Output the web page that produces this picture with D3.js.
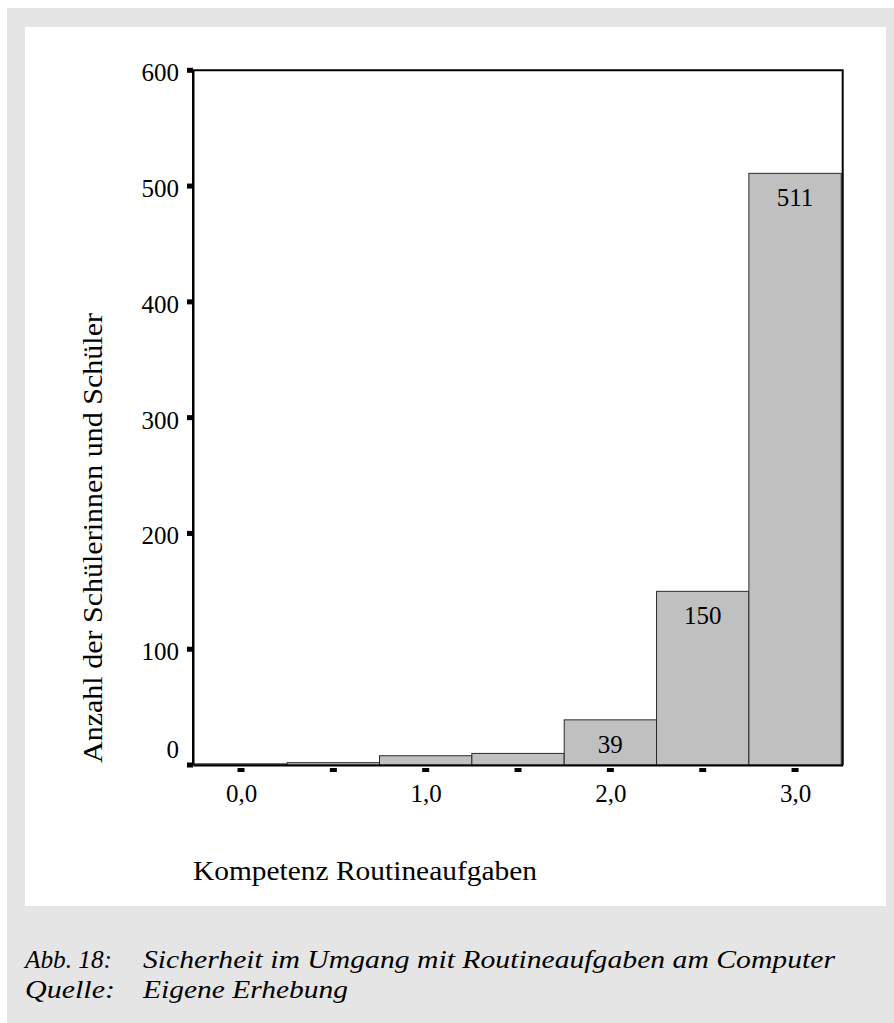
<!DOCTYPE html>
<html>
<head>
<meta charset="utf-8">
<script src="https://cdn.jsdelivr.net/npm/d3@7/dist/d3.min.js"></script>
<style>
  html, body { margin: 0; padding: 0; background: #ffffff; }
  svg { display: block; }
  text { font-family: "Liberation Serif", "Times New Roman", serif; fill: #000; }
</style>
</head>
<body>
<svg id="chart" width="894" height="1023"></svg>
<script>
// ---- data ----
const binCenters = [0.0, 0.5, 1.0, 1.5, 2.0, 2.5, 3.0];
const counts = [1, 2, 8, 10, 39, 150, 511];
const labelMin = 39;               // bars with a count label
const yTicks = [0, 100, 200, 300, 400, 500, 600];
const xTicks = [0.0, 0.5, 1.0, 1.5, 2.0, 2.5, 3.0];
const xTickLabels = ["0,0", "", "1,0", "", "2,0", "", "3,0"];
const binWidth = 0.5;
const xTitle = "Kompetenz Routineaufgaben";
const yTitle = "Anzahl der Schülerinnen und Schüler";
const captionLabels = ["Abb. 18:", "Quelle:"];
const captionTexts = ["Sicherheit im Umgang mit Routineaufgaben am Computer", "Eigene Erhebung"];

// ---- layout ----
const svg = d3.select("#chart");
svg.append("rect").attr("x", 7).attr("y", 8).attr("width", 887).attr("height", 1015).attr("fill", "#e5e5e5");
svg.append("rect").attr("x", 25).attr("y", 27).attr("width", 861).attr("height", 879).attr("fill", "#ffffff");

const x = d3.scaleLinear().domain([-0.26, 3.258]).range([193, 842.7]);
const y = d3.scaleLinear().domain([0, 600]).range([765, 70.3]);

// bars
svg.append("g").selectAll("rect").data(binCenters).join("rect")
  .attr("x", (d) => x(d - binWidth / 2))
  .attr("width", (d) => x(d + binWidth / 2) - x(d - binWidth / 2))
  .attr("y", (d, i) => y(counts[i]))
  .attr("height", (d, i) => y(0) - y(counts[i]))
  .attr("fill", "#c0c0c0")
  .attr("stroke", "#2a2a2a")
  .attr("stroke-width", 1);

// bar labels
svg.append("g").selectAll("text").data(binCenters.filter((d, i) => counts[i] >= labelMin)).join("text")
  .attr("x", (d) => x(d))
  .attr("y", (d) => y(counts[binCenters.indexOf(d)]) + 33)
  .attr("text-anchor", "middle")
  .attr("font-size", 25)
  .text((d) => counts[binCenters.indexOf(d)]);

// frame
svg.append("path")
  .attr("d", d3.line()([[x(-0.26), y(0)], [x(-0.26), y(600)], [x(3.258), y(600)], [x(3.258), y(0)]]))
  .attr("fill", "none").attr("stroke", "#000").attr("stroke-width", 2);

// y axis
const gY = svg.append("g").attr("transform", `translate(${x(-0.26)},0)`)
  .call(d3.axisLeft(y).tickValues(yTicks).tickSize(0).tickPadding(14).tickFormat(d3.format("d")));
gY.select(".domain").attr("stroke", "#000").attr("stroke-width", 2);
gY.selectAll("text").attr("font-size", 25).attr("font-family", "Liberation Serif").attr("fill", "#000").attr("dy", "0.42em");
gY.selectAll(".tick").filter((d) => d === 0).select("text").attr("dy", "-0.3em");
svg.append("g").selectAll("rect").data(yTicks).join("rect")
  .attr("x", x(-0.26) - 6).attr("y", (d) => y(d) - 2.5)
  .attr("width", 6).attr("height", 5).attr("fill", "#000");

// x axis
const gX = svg.append("g").attr("transform", `translate(0,${y(0)})`)
  .call(d3.axisBottom(x).tickValues(xTicks).tickSize(0).tickPadding(19).tickFormat((d, i) => xTickLabels[i]));
gX.select(".domain").attr("stroke", "#000").attr("stroke-width", 2);
gX.selectAll("text").attr("font-size", 25).attr("font-family", "Liberation Serif").attr("fill", "#000");
svg.append("g").selectAll("rect").data(xTicks).join("rect")
  .attr("x", (d) => x(d) - 3.5).attr("y", y(0) + 3)
  .attr("width", 7).attr("height", 4).attr("fill", "#000");

// axis titles
svg.append("text").attr("x", 193).attr("y", 880).attr("font-size", 28)
  .attr("textLength", 344).attr("lengthAdjust", "spacingAndGlyphs").text(xTitle);
svg.append("text").attr("transform", "translate(102,538) rotate(-90)")
  .attr("text-anchor", "middle").attr("font-size", 28)
  .attr("textLength", 450).attr("lengthAdjust", "spacingAndGlyphs").text(yTitle);

// caption
const capY = [968, 998];
const capLabelW = [87, 90];
const capW = [692, 205];
captionLabels.forEach((t, i) => {
  svg.append("text").attr("x", 25).attr("y", capY[i]).attr("font-size", 26)
    .attr("font-style", "italic").attr("textLength", capLabelW[i]).attr("lengthAdjust", "spacingAndGlyphs").text(t);
  svg.append("text").attr("x", 143).attr("y", capY[i]).attr("font-size", 26)
    .attr("font-style", "italic").attr("textLength", capW[i]).attr("lengthAdjust", "spacingAndGlyphs")
    .text(captionTexts[i]);
});
</script>
</body>
</html>
